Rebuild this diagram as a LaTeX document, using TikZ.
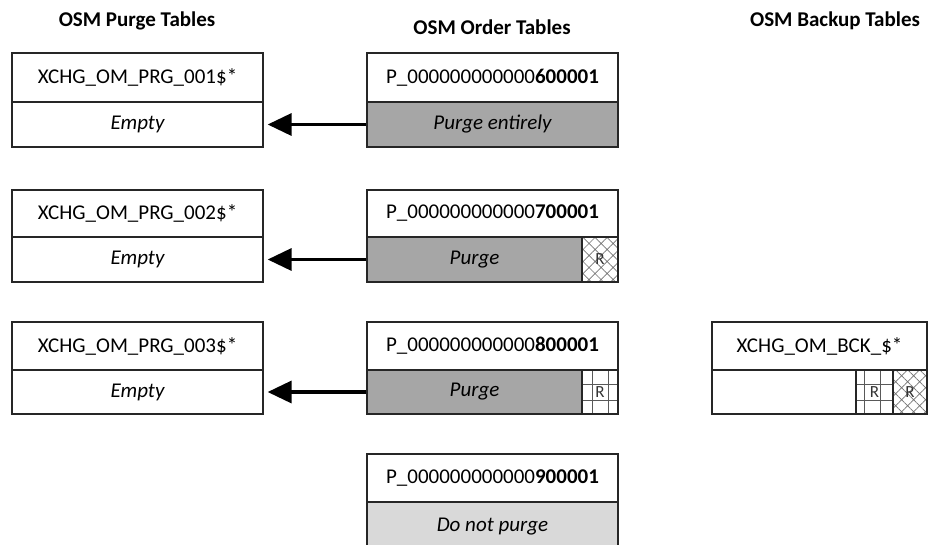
\documentclass[tikz,border=0pt]{standalone}
\usepackage{fontspec}
\setmainfont{Carlito}
\usetikzlibrary{arrows.meta,patterns.meta}
\definecolor{purgegray}{HTML}{A6A6A6}
\definecolor{keepgray}{HTML}{D9D9D9}
\definecolor{edge}{HTML}{262626}
\begin{document}
\begin{tikzpicture}[x=1pt,y=-1pt,
  txt/.style={font=\fontsize{21}{25}\selectfont},
  hdr/.style={font=\fontsize{21}{25}\selectfont\bfseries},
  cell/.style={draw=edge, line width=1.3pt, inner sep=0pt, txt, minimum width=251pt},
  narrow/.style={draw=edge, line width=1.3pt, inner sep=0pt, txt},
  purgecell/.style={narrow, fill=purgegray, minimum width=215pt},
  xhatch/.style={draw=edge, line width=1.3pt, inner sep=0pt, font=\fontsize{17}{19}\selectfont, text=black!80,
    pattern={Hatch[angle=45,distance=8.5pt,line width=0.7pt]}, pattern color=black!55},
  grid/.style={draw=edge, line width=1.3pt, inner sep=0pt, font=\fontsize{17}{19}\selectfont, text=black!80,
    pattern={Hatch[angle=0,distance=16pt,line width=1pt]}, pattern color=black!65},
  purgearrow/.style={line width=3.5pt, -{Triangle[length=24pt,width=22pt]}, shorten >=4pt}
]
\useasboundingbox (0,0) rectangle (929,544);

% headers
\node[hdr] (hpurge) at (137,21) {OSM Purge Tables};
\node[hdr] (horder) at (492,27) {OSM Order Tables};
\node[hdr] (hbackup) at (835,21) {OSM Backup Tables};

% purge tables
\node[cell, minimum height=49pt] (l1t) at (137.5,77.5) {XCHG\_OM\_PRG\_001\$*};
\node[cell, minimum height=45pt] (l1b) at (137.5,124.5) {\itshape Empty};
\node[cell, minimum height=47pt] (l2t) at (137.5,213.5) {XCHG\_OM\_PRG\_002\$*};
\node[cell, minimum height=45pt] (l2b) at (137.5,259.5) {\itshape Empty};
\node[cell, minimum height=48pt] (l3t) at (137.5,346) {XCHG\_OM\_PRG\_003\$*};
\node[cell, minimum height=44pt] (l3b) at (137.5,392) {\itshape Empty};

% order tables
\node[cell, minimum height=49pt] (m1t) at (492.5,77.5) {P\_000000000000\textbf{600001}};
\node[cell, minimum height=45pt, fill=purgegray] (m1b) at (492.5,124.5) {\itshape Purge entirely};

\node[cell, minimum height=47pt] (m2t) at (492.5,213.5) {P\_000000000000\textbf{700001}};
\node[purgecell, minimum height=45pt] (m2b) at (474.5,259.5) {\itshape Purge};
\node[xhatch, minimum width=36pt, minimum height=45pt] (m2r) at (600,259.5) {R};

\node[cell, minimum height=48pt] (m3t) at (492.5,346) {P\_000000000000\textbf{800001}};
\node[purgecell, minimum height=44pt] (m3b) at (474.5,392) {\itshape Purge};
\node[grid, minimum width=36pt, minimum height=44pt] (m3r) at (600,392) {R};

\node[cell, minimum height=48pt] (m4t) at (492.5,478) {P\_000000000000\textbf{900001}};
\node[cell, minimum height=48pt, fill=keepgray, text depth=0pt] (m4b) at (492.5,526) {\raisebox{3pt}{\itshape Do not purge}};

% backup table
\node[narrow, minimum width=215pt, minimum height=48pt] (bt) at (819.5,346) {XCHG\_OM\_BCK\_\$*};
\node[narrow, minimum width=144pt, minimum height=44pt] (bb) at (784,392) {};
\node[grid, minimum width=37pt, minimum height=44pt] (bg) at (874.5,392) {R};
\node[xhatch, minimum width=34pt, minimum height=44pt] (bx) at (910,392) {R};

% arrows
\draw[purgearrow] (m1b.west) -- (l1b.east);
\draw[purgearrow] (m2b.west) -- (l2b.east);
\draw[purgearrow] (m3b.west) -- (l3b.east);
\end{tikzpicture}
\end{document}
